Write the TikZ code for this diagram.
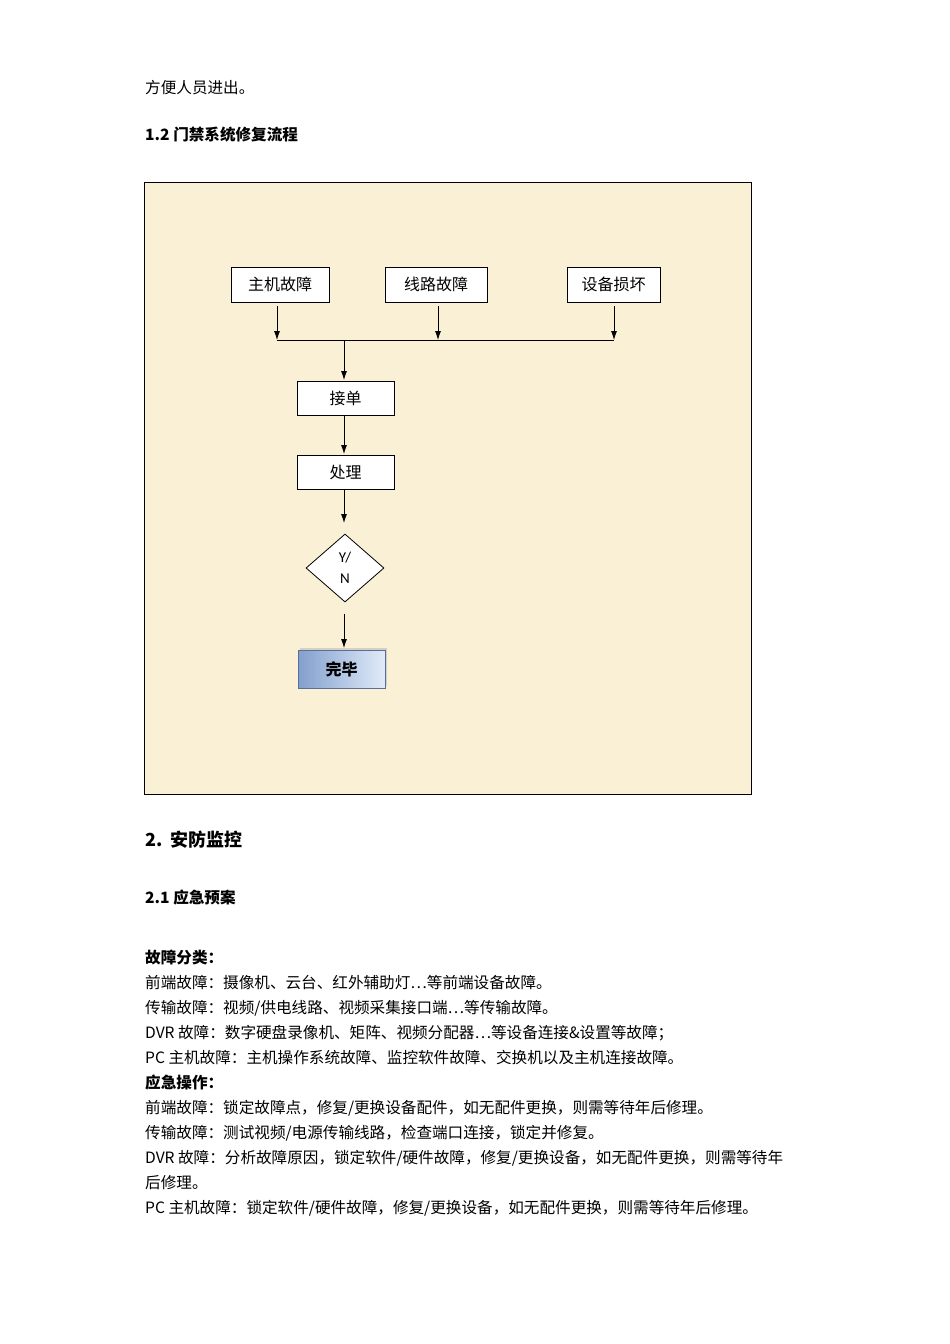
\documentclass[tikz,border=0pt]{standalone}
\usepackage{fontspec}
\setmainfont{Carlito}
\newfontfamily\cjk{Noto Sans CJK SC}
\usetikzlibrary{shapes.geometric,arrows.meta,shadows}
\begin{document}
\begin{tikzpicture}[x=1pt,y=-1pt,
  txt/.style={anchor=west,inner sep=0,font=\cjk\fontsize{15.6}{18}\selectfont},
  hd/.style={anchor=west,inner sep=0,font=\cjk\bfseries\fontsize{15.6}{18}\selectfont},
  fbox/.style={draw,fill=white,line width=0.8pt,minimum height=35,inner sep=0,font=\cjk\fontsize{16}{18}\selectfont},
  arr/.style={-{Latex[length=9,width=6]},line width=0.8pt}]
\useasboundingbox (0,0) rectangle (950,1344);
\fill[white] (0,0) rectangle (950,1344);
\node[txt] (t0) at (145,88) {方便人员进出。};
\node[hd] (h1) at (145,135) {1.2 门禁系统修复流程};
\draw[fill={rgb,255:red,250;green,240;blue,214},line width=0.8pt] (144,182) rectangle (751,794);
\node[fbox,minimum width=98] (a) at (280,284.5) {主机故障};
\node[fbox,minimum width=102] (b) at (436,284.5) {线路故障};
\node[fbox,minimum width=93] (c) at (613.5,284.5) {设备损坏};
\coordinate (ja) at (277,340); \coordinate (jb) at (438,340); \coordinate (jc) at (614,340);
\coordinate (jm) at (344,340);
\draw[arr] (277,306) -- (ja);
\draw[arr] (438,306) -- (jb);
\draw[arr] (614,306) -- (jc);
\draw[line width=0.8pt] (ja) -- (jc);
\node[fbox,minimum width=97,minimum height=34] (d) at (345.5,398) {接单};
\node[fbox,minimum width=97,minimum height=34] (e) at (345.5,472) {处理};
\draw[arr] (jm) -- (344,380);
\draw[arr] (344,415) -- (344,454);
\draw[arr] (344,489) -- (344,523);
\node[diamond,draw,fill=white,line width=0.8pt,minimum width=78,minimum height=68,inner sep=0,aspect=1.15,align=center,font=\fontsize{15}{21}\selectfont] (f) at (345,568) {Y/\\N};
\draw[arr] (344,614) -- (344,648);
\node[draw={rgb,255:red,90;green,110;blue,150},line width=0.6pt,minimum width=87,minimum height=38,inner sep=0,
  left color={rgb,255:red,130;green,160;blue,205},right color={rgb,255:red,225;green,235;blue,248},
  drop shadow={shadow xshift=2,shadow yshift=-2,fill=gray!60},
  font=\cjk\bfseries\fontsize{16}{18}\selectfont] (g) at (341.5,669) {完毕};
\node[anchor=west,inner sep=0,font=\cjk\bfseries\fontsize{18}{20}\selectfont] (h2) at (145,840) {2.\ \ 安防监控};
\node[hd] (h3) at (145,898) {2.1 应急预案};
\node[hd] (s1) at (145,958) {故障分类：};
\node[txt] (l1) at (145,983) {前端故障：摄像机、云台、红外辅助灯…等前端设备故障。};
\node[txt] (l2) at (145,1008) {传输故障：视频/供电线路、视频采集接口端…等传输故障。};
\node[txt] (l3) at (145,1033) {DVR 故障：数字硬盘录像机、矩阵、视频分配器…等设备连接\&设置等故障；};
\node[txt] (l4) at (145,1058) {PC 主机故障：主机操作系统故障、监控软件故障、交换机以及主机连接故障。};
\node[hd] (s2) at (145,1083) {应急操作：};
\node[txt] (l5) at (145,1108) {前端故障：锁定故障点，修复/更换设备配件，如无配件更换，则需等待年后修理。};
\node[txt] (l6) at (145,1133) {传输故障：测试视频/电源传输线路，检查端口连接，锁定并修复。};
\node[txt] (l7) at (145,1158) {DVR 故障：分析故障原因，锁定软件/硬件故障，修复/更换设备，如无配件更换，则需等待年};
\node[txt] (l8) at (145,1183) {后修理。};
\node[txt] (l9) at (145,1208) {PC 主机故障：锁定软件/硬件故障，修复/更换设备，如无配件更换，则需等待年后修理。};
\end{tikzpicture}
\end{document}
